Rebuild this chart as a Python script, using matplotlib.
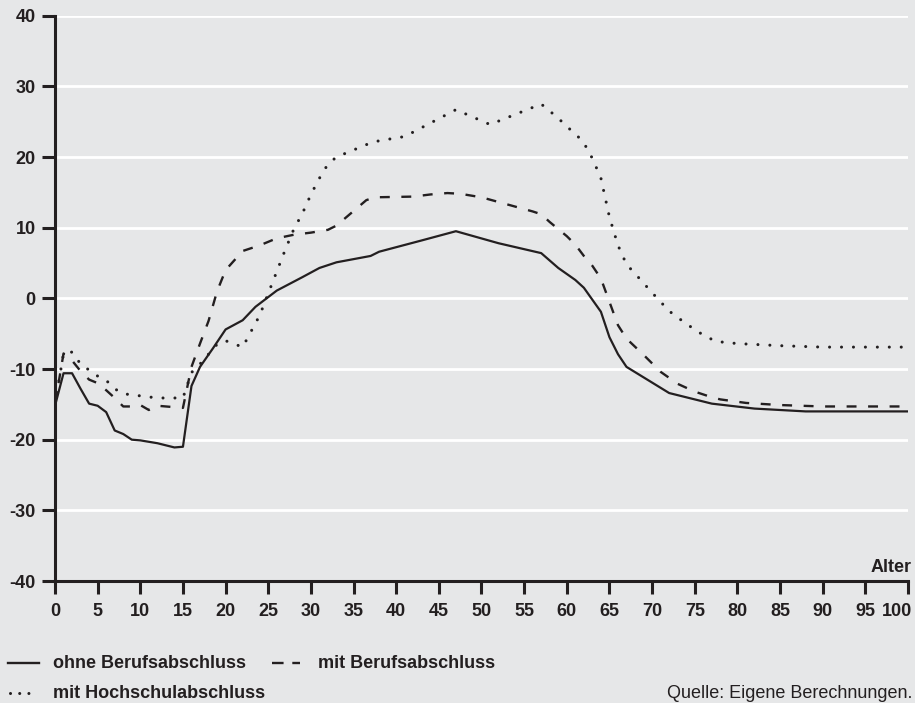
import matplotlib
matplotlib.use("Agg")
import matplotlib.pyplot as plt
from matplotlib.lines import Line2D
from matplotlib import font_manager

BG = "#e6e7e8"
INK = "#231f20"

# ages (x) and values (y)
age_ohne = [0, 1, 2, 3, 4, 5, 6, 7, 8, 9, 10, 11, 12, 13, 14, 15, 16, 17, 18.5,
            20, 22, 23.5, 26, 29, 31, 33, 37, 38, 43, 47, 52, 57, 59, 61, 62,
            64, 65, 66, 67, 72, 77, 82, 88, 100]
val_ohne = [-15.2, -10.6, -10.6, -12.8, -14.9, -15.2, -16.1, -18.7, -19.2,
            -20.0, -20.1, -20.3, -20.5, -20.8, -21.1, -21.0, -12.4, -9.7, -7.1,
            -4.4, -3.1, -1.2, 1.1, 3.0, 4.3, 5.1, 6.0, 6.6, 8.2, 9.5, 7.8, 6.4,
            4.3, 2.6, 1.5, -1.9, -5.5, -7.9, -9.7, -13.4, -14.9, -15.6, -16.0,
            -16.0]

age_beruf = [0, 1, 2, 3, 4, 5, 6, 7, 8, 9, 10, 11, 12, 13, 14, 15, 16, 17, 18,
             19, 20, 22, 24, 26, 28, 30, 32, 33, 36.5, 37.5, 42, 44, 46, 47.5,
             50, 56, 57, 58, 60, 61, 62, 63, 64, 65, 66, 67, 69, 71, 73, 75,
             77, 78, 81, 85, 90, 100]
val_beruf = [-15.0, -7.8, -8.8, -10.3, -11.5, -12.0, -13.0, -14.1, -15.3,
             -15.3, -15.1, -15.8, -15.2, -15.3, -15.4, -15.5, -9.7, -6.4, -3.2,
             1.0, 4.0, 6.7, 7.5, 8.5, 9.0, 9.3, 9.7, 10.3, 13.9, 14.3, 14.4,
             14.7, 14.9, 14.8, 14.3, 12.3, 11.9, 10.8, 8.8, 7.6, 6.0, 4.6, 2.8,
             -0.5, -3.8, -5.7, -8.0, -10.4, -12.1, -13.2, -14.0, -14.3, -14.8,
             -15.1, -15.3, -15.3]

age_hoch = [0, 1, 2, 3, 5, 6, 7, 8, 10, 12, 15, 16, 17, 19, 20, 22, 24, 25, 26,
            27, 28, 29, 30, 31, 32, 33, 35, 37, 38, 41, 47, 51, 57, 58, 59, 60,
            61, 62, 63, 64, 65, 66, 67, 68, 70, 72, 74, 76, 77.5, 80, 85, 90,
            100]
val_hoch = [-15.0, -7.8, -7.6, -9.3, -11.0, -11.6, -12.8, -13.5, -13.8, -14.1,
            -14.1, -10.5, -9.3, -6.5, -6.0, -6.9, -2.4, 0.7, 3.8, 6.9, 9.8,
            12.0, 14.7, 17.0, 19.0, 20.0, 21.0, 22.0, 22.3, 22.9, 26.7, 24.6,
            27.5, 26.5, 25.5, 24.3, 23.3, 22.0, 19.8, 17.0, 11.5, 7.5, 4.8, 3.5,
            0.8, -1.8, -3.6, -5.2, -6.1, -6.4, -6.7, -6.9, -6.9]

x_ticks = list(range(0, 101, 5))
y_ticks = list(range(-40, 41, 10))
labels = ["ohne Berufsabschluss", "mit Berufsabschluss", "mit Hochschulabschluss"]
source = "Quelle: Eigene Berechnungen."

names = {f.name for f in font_manager.fontManager.ttflist}
FONT = "Liberation Sans" if "Liberation Sans" in names else "DejaVu Sans"
plt.rcParams["font.family"] = [FONT, "DejaVu Sans"]
plt.rcParams["axes.unicode_minus"] = False

W, H = 915, 703
fig = plt.figure(figsize=(W / 100, H / 100), dpi=100, facecolor=BG)
ax = fig.add_axes([55 / W, 1 - 581 / H, 853 / W, 565.3 / H])
ax.set_facecolor(BG)

solid_style = dict(color=INK, lw=1.6, solid_joinstyle="round")
dash_style = dict(color=INK, lw=1.7, linestyle=(0, (4.2, 4.9)), dash_capstyle="butt")
dot_style = dict(color=INK, lw=2.2, linestyle=(0, (0.01, 3.9)), dash_capstyle="round")

ax.plot(age_ohne, val_ohne, **solid_style, zorder=3)
ax.plot(age_beruf, val_beruf, **dash_style, zorder=3)
ax.plot(age_hoch, val_hoch, **dot_style, zorder=3)

ax.set_xlim(0, 100)
ax.set_ylim(-40, 40)
ax.set_xticks(x_ticks)
ax.set_yticks(y_ticks)
# the last x label is drawn separately, flush with the right edge
ax.set_xticklabels([str(t) for t in x_ticks[:-1]] + [""])
ax.set_yticklabels([str(t) for t in y_ticks])
for lab in ax.get_xticklabels() + ax.get_yticklabels():
    lab.set_fontweight("bold")
    lab.set_fontsize(13)
    lab.set_color(INK)

TICK_LEN = 9.5
X_PAD = 6
ax.tick_params(axis="both", direction="out", length=TICK_LEN, width=2.2, color=INK)
ax.tick_params(axis="x", pad=X_PAD)
ax.tick_params(axis="y", pad=4.5)

ax.annotate(str(x_ticks[-1]), xy=(x_ticks[-1], 0),
            xycoords=ax.get_xaxis_transform(), xytext=(3, -(TICK_LEN + X_PAD)),
            textcoords="offset points", ha="right", va="top",
            fontsize=13, fontweight="bold", color=INK, annotation_clip=False)

for side in ("top", "right"):
    ax.spines[side].set_visible(False)
for side in ("left", "bottom"):
    ax.spines[side].set_linewidth(2.2)
    ax.spines[side].set_color(INK)

ax.yaxis.grid(True, color="white", lw=2.0, zorder=0)
ax.set_axisbelow(True)

fig.text(912 / W, 1 - 572 / H, "Alter", ha="right", va="baseline",
         fontsize=13, fontweight="bold", color=INK)

# legend, drawn by hand to follow the two-row layout
y1 = 1 - 663 / H
y2 = 1 - 693 / H
fig.add_artist(Line2D([8 / W, 39 / W], [y1, y1], transform=fig.transFigure,
                      color=INK, lw=1.7))
fig.add_artist(Line2D([272 / W, 300 / W], [y1, y1], transform=fig.transFigure,
                      color=INK, lw=1.7, linestyle=(0, (4.9, 3.7))))
fig.add_artist(Line2D([10 / W, 37 / W], [y2, y2], transform=fig.transFigure,
                      color=INK, lw=2.2, linestyle=(0, (0.01, 3.0)),
                      dash_capstyle="round"))
fig.text(53 / W, 1 - 668 / H, labels[0], ha="left", va="baseline",
         fontsize=13, fontweight="bold", color=INK)
fig.text(318 / W, 1 - 668 / H, labels[1], ha="left", va="baseline",
         fontsize=13, fontweight="bold", color=INK)
fig.text(53 / W, 1 - 698 / H, labels[2], ha="left", va="baseline",
         fontsize=13, fontweight="bold", color=INK)
fig.text(912 / W, 1 - 698 / H, source, ha="right", va="baseline",
         fontsize=13, color=INK)

fig.savefig("out.png", dpi=100, facecolor=BG)
